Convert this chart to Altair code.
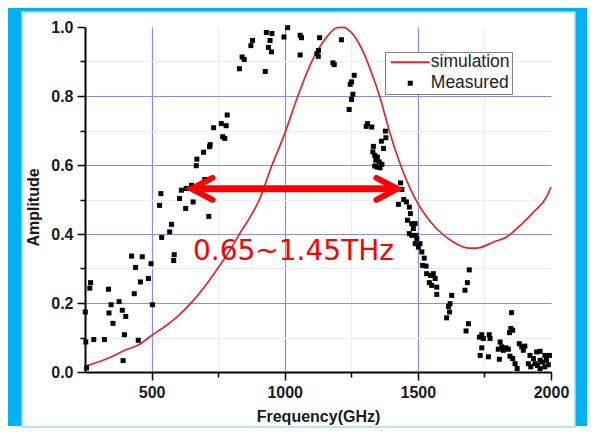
import altair as alt
import pandas as pd

# ---------------- data ----------------
sim_x = [250, 300, 350, 400, 450, 500, 550, 600, 650, 700, 750, 800, 830, 874, 904,
         950, 1000, 1048, 1098, 1148, 1198, 1222, 1248, 1286, 1323, 1361, 1392, 1435,
         1485, 1520, 1570, 1630, 1690, 1720, 1785, 1835, 1885, 1935, 1985, 2000]
sim_y = [0.017, 0.029, 0.044, 0.063, 0.078, 0.106, 0.132, 0.163, 0.202, 0.248, 0.302,
         0.360, 0.400, 0.454, 0.498, 0.595, 0.691, 0.797, 0.894, 0.961, 0.998, 0.999,
         0.986, 0.942, 0.874, 0.788, 0.701, 0.600, 0.510, 0.464, 0.416, 0.378, 0.359,
         0.359, 0.377, 0.392, 0.425, 0.464, 0.510, 0.536]

meas_x = [256, 253, 283, 323, 251, 268, 271, 338, 348, 340, 355, 378, 390, 403, 398, 393,
          425, 440, 435, 458, 465, 450, 488, 498, 503, 538, 568, 575, 583, 585,
          530, 535, 605, 612, 630, 650, 628, 656, 715, 700, 668, 670, 695, 718, 720, 733,
          762, 780, 784, 767, 775,
          830, 840, 848, 873, 879, 927, 931, 952, 945, 939, 950, 997, 1011, 1058, 1063,
          1058, 1131, 1121, 1126, 1127, 1181, 1186, 1213, 1261, 1251, 1246, 1256, 1251, 1242,
          1306, 1311, 1327, 1378, 1380, 1363, 1333, 1371, 1331, 1338, 1348, 1342, 1355, 1338,
          1348, 1365, 1358,
          1435, 1440, 1447, 1457, 1427, 1468, 1472,
          1461, 1477, 1490, 1483, 1468, 1477, 1493, 1496, 1490, 1508, 1502, 1515, 1524, 1518,
          1531, 1533, 1548, 1558, 1565, 1543, 1552, 1571, 1571, 1627, 1621, 1615, 1619, 1608,
          1693, 1686, 1677, 1690, 1681, 1740, 1731, 1746, 1768, 1771, 1740, 1734, 1765, 1806,
          1809, 1802, 1815, 1821, 1831, 1840, 1846, 1852, 1849, 1856, 1844, 1856, 1865, 1873,
          1881, 1890, 1896, 1902, 1921, 1915, 1924, 1934, 1946, 1959, 1940, 1949, 1959, 1968,
          1977, 1983, 1990, 1977, 1959, 1994]
meas_y = [0.012, 0.087, 0.094, 0.094, 0.174, 0.243, 0.259, 0.240, 0.195, 0.171, 0.141, 0.204,
          0.179, 0.161, 0.108, 0.033,
          0.336, 0.303, 0.227, 0.261, 0.334, 0.092, 0.271, 0.314, 0.195, 0.390, 0.406, 0.428,
          0.323, 0.340,
          0.483, 0.517, 0.503, 0.527, 0.532, 0.541, 0.474, 0.493, 0.451, 0.558, 0.598, 0.617,
          0.637, 0.653, 0.659, 0.708, 0.720, 0.714, 0.745, 0.682, 0.677,
          0.879, 0.913, 0.906, 0.946, 0.961, 0.871, 0.984, 0.981, 0.961, 0.941, 0.928, 0.971,
          0.998, 0.976, 0.969, 0.919, 0.969, 0.923, 0.915, 0.932, 0.896, 0.891, 0.963, 0.860,
          0.841, 0.834, 0.805, 0.790, 0.761,
          0.712, 0.720, 0.710, 0.698, 0.679, 0.669, 0.654, 0.648, 0.638, 0.628, 0.623, 0.614,
          0.609, 0.597, 0.594, 0.602, 0.592,
          0.548, 0.529, 0.500, 0.493, 0.486, 0.478, 0.459,
          0.440, 0.430, 0.430, 0.416, 0.401, 0.396, 0.396, 0.387, 0.372, 0.372, 0.362, 0.348,
          0.330, 0.309, 0.307, 0.285, 0.280, 0.285, 0.271, 0.259, 0.251, 0.246, 0.225, 0.222,
          0.198, 0.190, 0.174, 0.157, 0.296, 0.259, 0.237, 0.140, 0.119, 0.108, 0.101, 0.097,
          0.108, 0.097, 0.070, 0.048, 0.044, 0.037, 0.087, 0.066, 0.073, 0.063, 0.070, 0.066,
          0.046, 0.172, 0.126, 0.121, 0.114, 0.039, 0.024, 0.010, 0.082, 0.073, 0.063, 0.075,
          0.048, 0.024, 0.015, 0.039, 0.058, 0.060, 0.024, 0.019, 0.034, 0.029, 0.048, 0.034,
          0.021, 0.015, 0.010, 0.048]

series_names = ["simulation", "Measured"]
x_ticks = [500, 750, 1000, 1250, 1500, 1750, 2000]
y_ticks = [0.0, 0.1, 0.2, 0.3, 0.4, 0.5, 0.6, 0.7, 0.8, 0.9, 1.0]

arrow_x = [650, 1423]
arrow_y = [0.531, 0.531]
note_text = ["0.65~1.45THz"]
note_x = [1033]
note_y = [0.324]

# ---------------- styles ----------------
RED_LINE = "#E0252B"
RED = "#FF0000"
GRID = "#8C8CE4"
MINOR = "#EEEEF4"
FRAME = "#00B0F0"
W, H = 466, 345

sim_df = pd.DataFrame({"f": sim_x, "a": sim_y})
meas_df = pd.DataFrame({"f": meas_x, "a": meas_y, "series": "Measured"})
shaft_df = pd.DataFrame({"f": [arrow_x[0] + 10], "f2": [arrow_x[1] - 10], "a": [arrow_y[0]]})
left_df = pd.DataFrame({"f": [arrow_x[0]], "a": [arrow_y[0]]})
right_df = pd.DataFrame({"f": [arrow_x[1]], "a": [arrow_y[1]]})
note_df = pd.DataFrame({"f": note_x, "a": note_y, "t": note_text})
one = pd.DataFrame({"k": [0]})

x_axis = alt.Axis(
    values=x_ticks, format="d", labelFlush=False,
    labelExpr="datum.value % 500 == 0 ? datum.label : ''",
    tickSize={"condition": {"test": "datum.value % 500 == 0", "value": 8}, "value": 5},
    gridColor={"condition": {"test": "datum.value % 500 == 0", "value": GRID}, "value": MINOR},
    gridOpacity={"condition": {"test": "datum.value >= 2000", "value": 0}, "value": 1},
    labelPadding=4, title="Frequency(GHz)", titleX=W / 2, titleY=49,
    titleAlign="center", titleBaseline="alphabetic",
)
y_axis = alt.Axis(
    values=y_ticks,
    labelExpr="abs(datum.value*5 - round(datum.value*5)) < 0.001 ? format(datum.value, '.1f') : ''",
    tickSize={"condition": {"test": "abs(datum.value*5 - round(datum.value*5)) < 0.001", "value": 8}, "value": 5},
    gridColor={"condition": {"test": "abs(datum.value*5 - round(datum.value*5)) < 0.001", "value": GRID}, "value": MINOR},
    gridOpacity={"condition": {"test": "datum.value > 0.99 || datum.value < 0.01", "value": 0}, "value": 1},
    labelPadding=4, title="Amplitude", titleX=-51.5, titleY=180, titleAngle=270,
    titleAlign="center", titleBaseline="middle",
)
xs = alt.Scale(domain=[250, 2000], nice=False, zero=False)
ys = alt.Scale(domain=[0, 1], nice=False)
X = alt.X("f:Q", scale=xs, axis=x_axis)
Y = alt.Y("a:Q", scale=ys, axis=y_axis)

def prect(x1, x2, y1, y2, color):
    return alt.Chart(one).mark_rect(color=color).encode(
        x=alt.value(x1), x2=alt.value(x2), y=alt.value(y1), y2=alt.value(y2))

frame_left = prect(-77, -63, -19, 399, FRAME)
frame_top = prect(-77, 502, -19, -15, FRAME)
frame_right = prect(490, 502, -19, 399, FRAME)
panel_edge = alt.Chart(one).mark_rect(fillOpacity=0, stroke="#A9D9F2", strokeWidth=1.5).encode(
    x=alt.value(-63), x2=alt.value(490), y=alt.value(-15), y2=alt.value(400))

line = alt.Chart(sim_df).mark_line(color=RED_LINE, strokeWidth=1.7, interpolate="monotone").encode(x=X, y=Y)

legend = alt.Legend(
    title=None, orient="none", legendX=300, legendY=25, padding=1.5,
    strokeColor="#808080", fillColor="white",
    labelFont="Liberation Sans", labelFontSize=17.5, labelColor="#222222",
    symbolSize=25, symbolOffset=15, labelOffset=11.8, rowPadding=2, symbolStrokeWidth=0,
)
line_symbol = "M-7.8,-0.4L7.8,-0.4L7.8,0.4L-7.8,0.4Z"
points = alt.Chart(meas_df).mark_point(filled=True, size=25, opacity=1, strokeWidth=0).encode(
    x=X, y=Y,
    color=alt.Color("series:N", scale=alt.Scale(domain=series_names, range=[RED_LINE, "#000000"]), legend=legend),
    shape=alt.Shape("series:N", scale=alt.Scale(domain=series_names, range=[line_symbol, "square"]), legend=legend),
)

shaft = alt.Chart(shaft_df).mark_rule(color=RED, strokeWidth=7).encode(x=X, x2="f2:Q", y=Y)
head_l = alt.Chart(left_df).mark_point(
    shape="M2.1,-1.1L0,0L2.1,1.1", size=400, filled=False, color=RED, strokeWidth=6,
    strokeJoin="miter", strokeCap="round", opacity=1).encode(x=X, y=Y)
head_r = alt.Chart(right_df).mark_point(
    shape="M-2.1,-1.1L0,0L-2.1,1.1", size=400, filled=False, color=RED, strokeWidth=6,
    strokeJoin="miter", strokeCap="round", opacity=1).encode(x=X, y=Y)
note = alt.Chart(note_df).mark_text(
    font="DejaVu Sans", fontSize=28, color=RED, align="center", baseline="alphabetic").encode(
    x=X, y=Y, text="t:N")

chart = alt.layer(
    frame_left, frame_top, frame_right, panel_edge,
    line, points, shaft, head_l, head_r, note,
).properties(width=W, height=H, padding=0, background="white").configure_view(
    stroke=None
).configure_axis(
    labelFont="Liberation Sans", labelFontWeight="bold", labelFontSize=16, labelColor="#1a1a1a",
    titleFont="Liberation Sans", titleFontWeight="bold", titleFontSize=16, titleColor="#1a1a1a",
    domainColor="#000000", domainWidth=2, tickColor="#000000", tickWidth=1.5, gridWidth=1.2,
)

chart.save("out.html", embed_options={"renderer": "svg", "actions": False})
